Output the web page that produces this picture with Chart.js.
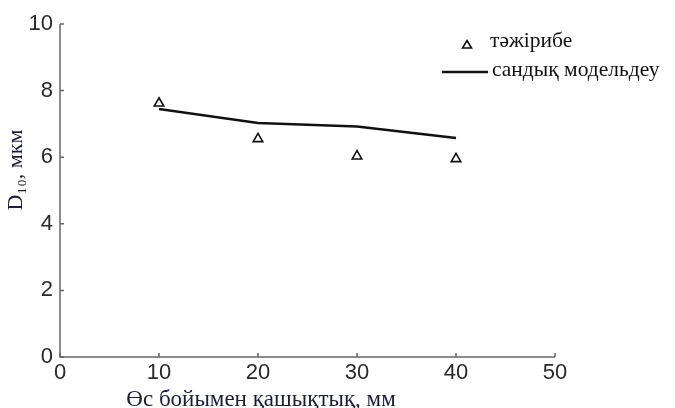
<!DOCTYPE html>
<html>
<head>
<meta charset="utf-8">
<script src="https://cdn.jsdelivr.net/npm/chart.js@4/dist/chart.umd.min.js"></script>
<style>
  html, body { margin: 0; padding: 0; background: #fff; }
  #wrap { width: 675px; height: 408px; }
</style>
</head>
<body>
<div id="wrap"><canvas id="c" width="675" height="408"></canvas></div>
<script>
// Distance along the axis, mm
const distances = [10, 20, 30, 40];
// Measured D10, um
const experiment = [7.62, 6.55, 6.03, 5.95];
// Numerical model D10, um
const model = [7.45, 7.03, 6.92, 6.58];
// Tick values
const xTicks = [0, 10, 20, 30, 40, 50];
const yTicks = [0, 2, 4, 6, 8, 10];

const labels = {
  x: 'Өс бойымен қашықтық, мм',
  y: 'D₁₀, мкм',
  experiment: 'тәжірибе',
  model: 'сандық модельдеу'
};

const axisColor = '#666';
const tickFont = { family: 'Liberation Sans, Arial, sans-serif', size: 22 };
const serif = 'Liberation Serif, Times New Roman, serif';

// Inward tick marks, axis titles and the legend
const decor = {
  id: 'decor',
  afterDraw(chart) {
    const ctx = chart.ctx;
    const xs = chart.scales.x, ys = chart.scales.y;
    const area = chart.chartArea;
    ctx.save();
    ctx.strokeStyle = axisColor;
    ctx.lineWidth = 1.5;
    ctx.beginPath();
    ctx.moveTo(area.left, area.top);
    ctx.lineTo(area.left, area.bottom);
    ctx.lineTo(area.right, area.bottom);
    ctx.stroke();
    ctx.beginPath();
    xTicks.forEach(v => {
      const px = xs.getPixelForValue(v);
      ctx.moveTo(px, area.bottom);
      ctx.lineTo(px, area.bottom - 4);
    });
    yTicks.forEach(v => {
      const py = ys.getPixelForValue(v);
      ctx.moveTo(area.left, py);
      ctx.lineTo(area.left + 4, py);
    });
    ctx.stroke();

    // axis titles
    ctx.fillStyle = '#1c1c3a';
    ctx.font = '23px ' + serif;
    ctx.textAlign = 'center';
    ctx.textBaseline = 'alphabetic';
    ctx.fillText(labels.x, 261, 406);

    ctx.save();
    ctx.translate(16, 170);
    ctx.rotate(-Math.PI / 2);
    ctx.font = '22px ' + serif;
    ctx.textBaseline = 'middle';
    ctx.fillText(labels.y, 0, 0);
    ctx.restore();

    // legend
    ctx.fillStyle = '#111';
    ctx.font = '21.5px ' + serif;
    ctx.textAlign = 'left';
    ctx.textBaseline = 'middle';
    ctx.fillText(labels.experiment, 490, 41);
    ctx.fillText(labels.model, 492, 70);

    ctx.strokeStyle = '#111';
    ctx.lineWidth = 1.6;
    ctx.beginPath();
    ctx.moveTo(467, 40.5);
    ctx.lineTo(471.5, 48);
    ctx.lineTo(462.5, 48);
    ctx.closePath();
    ctx.stroke();

    ctx.lineWidth = 2.5;
    ctx.beginPath();
    ctx.moveTo(442, 72);
    ctx.lineTo(488, 72);
    ctx.stroke();
    ctx.restore();
  }
};

new Chart(document.getElementById('c'), {
  type: 'scatter',
  data: {
    datasets: [
      {
        label: labels.model,
        data: distances.map((d, i) => ({ x: d, y: model[i] })),
        showLine: true,
        borderColor: '#111',
        borderWidth: 2.5,
        pointRadius: 0,
        order: 2
      },
      {
        label: labels.experiment,
        data: distances.map((d, i) => ({ x: d, y: experiment[i] })),
        showLine: false,
        pointStyle: 'triangle',
        pointRadius: 5.5,
        pointBorderWidth: 1.6,
        pointBorderColor: '#111',
        pointBackgroundColor: '#fff',
        order: 1
      }
    ]
  },
  options: {
    responsive: false,
    animation: false,
    devicePixelRatio: 1,
    layout: { padding: { top: 24, right: 120, left: 0, bottom: 0 } },
    plugins: { legend: { display: false }, tooltip: { enabled: false } },
    scales: {
      x: {
        type: 'linear', min: 0, max: 50,
        afterBuildTicks: s => { s.ticks = xTicks.map(v => ({ value: v })); },
        afterFit: s => { s.height = 51; },
        grid: { display: false, drawTicks: false },
        border: { display: false },
        ticks: { color: '#2a2a2a', font: tickFont, padding: 3, maxRotation: 0 }
      },
      y: {
        type: 'linear', min: 0, max: 10,
        afterBuildTicks: s => { s.ticks = yTicks.map(v => ({ value: v })); },
        afterFit: s => { s.width = 60; },
        grid: { display: false, drawTicks: false },
        border: { display: false },
        ticks: { color: '#2a2a2a', font: tickFont, padding: 7 }
      }
    }
  },
  plugins: [decor]
});
</script>
</body>
</html>
